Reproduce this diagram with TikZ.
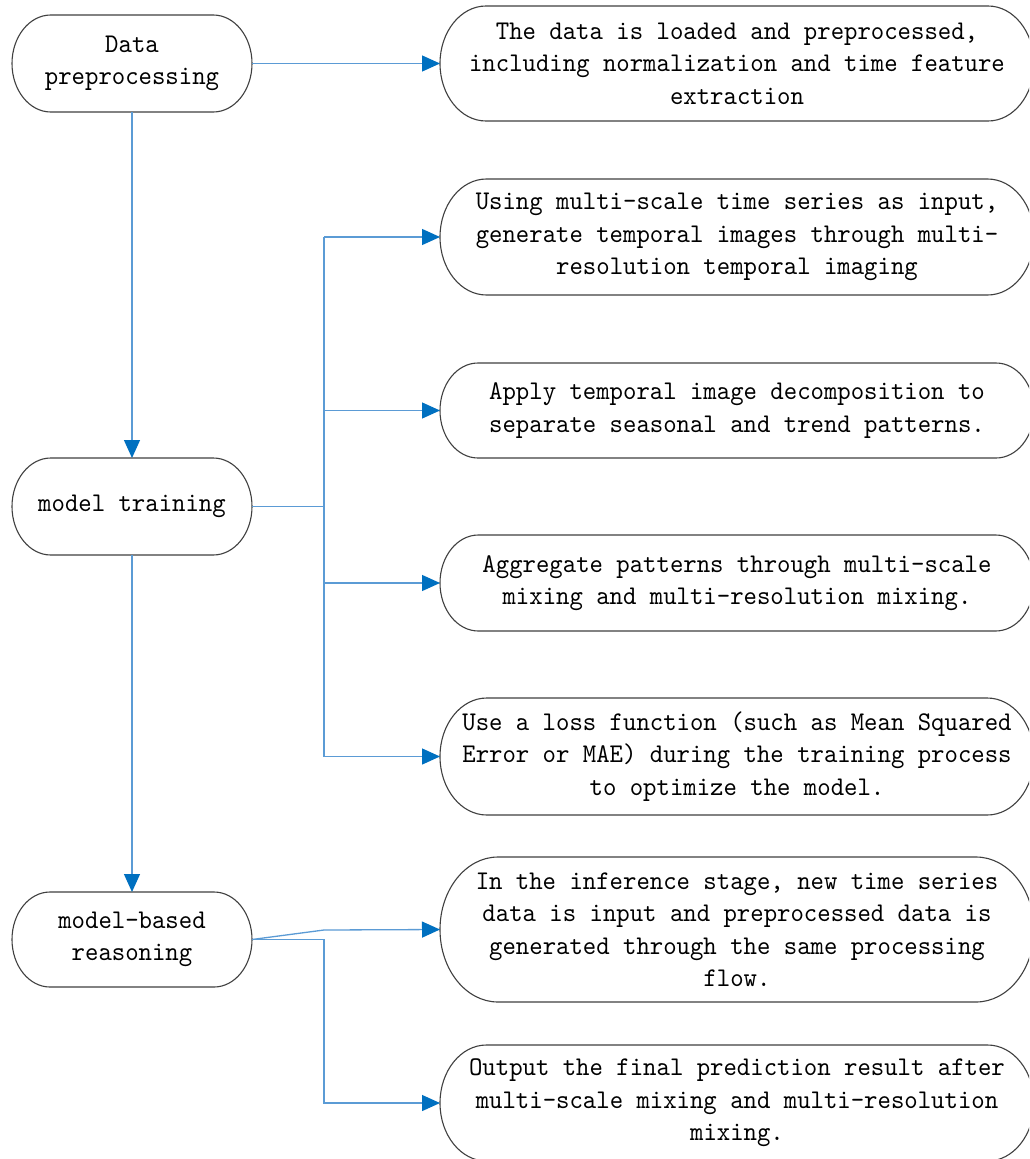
\documentclass[tikz,border=0pt]{standalone}
\usepackage{fontspec}
\setmonofont[FakeStretch=0.945]{lmmono10-regular.otf}
\usetikzlibrary{arrows.meta,calc}
\definecolor{linkblue}{RGB}{91,155,213}
\definecolor{tipblue}{RGB}{0,112,192}
\definecolor{outlinegray}{RGB}{64,64,64}
\tikzset{
  capsule/.style={rectangle, draw=none, outer sep=0pt, inner sep=0pt, align=center,
    font=\fontsize{27}{32.5}\selectfont\ttfamily\frenchspacing},
  leftbox/.style={capsule, minimum width=240pt},
  rightbox/.style={capsule, minimum width=594pt},
  boxline/.style={draw=outlinegray, line width=1.1pt},
  link/.style={draw=linkblue, line width=1.3pt},
  conn/.style={link, -{Triangle[length=18pt,width=16pt,color=tipblue]}}
}
\newcommand\capsuleoutline[1]{%
  \draw[boxline] let \p1=(#1.north west), \p2=(#1.south east),
    \n1={(\y1-\y2)/2}, \n2={0.8*(\y1-\y2)/2} in
    (\x1+\n2,\y1) -- (\x2-\n2,\y1)
    arc[start angle=90,end angle=-90,x radius=\n2,y radius=\n1]
    -- (\x1+\n2,\y2)
    arc[start angle=270,end angle=90,x radius=\n2,y radius=\n1] -- cycle;}
\begin{document}
\begin{tikzpicture}[x=1pt,y=-1pt]
\path[use as bounding box, clip] (0,0) rectangle (1029,1159);
\fill[white] (0,0) rectangle (1029,1159);

% left column
\node[leftbox, minimum height=97pt] (n1) at (132,63.5) {Data\\preprocessing};
\node[leftbox, minimum height=97pt] (n2) at (132,506.5) {model training};
\node[leftbox, minimum height=95pt] (n3) at (132,939.5) {model-based\\reasoning};

% right column
\node[rightbox, minimum height=115pt] (r1) at (737,63.5)
  {The data is loaded and preprocessed,\\including normalization and time feature\\extraction};
\node[rightbox, minimum height=116pt] (r2) at (737,237)
  {Using multi-scale time series as input,\\generate temporal images through multi-\\resolution temporal imaging};
\node[rightbox, minimum height=95pt] (r3) at (737,410.5)
  {Apply temporal image decomposition to\\separate seasonal and trend patterns.};
\node[rightbox, minimum height=96pt] (r4) at (737,583)
  {Aggregate patterns through multi-scale\\mixing and multi-resolution mixing.};
\node[rightbox, minimum height=117pt] (r5) at (737,756.5)
  {Use a loss function (such as Mean Squared\\Error or MAE) during the training process\\to optimize the model.};
\node[rightbox, minimum height=145pt] (r6) at (737,929.5)
  {In the inference stage, new time series\\data is input and preprocessed data is\\generated through the same processing\\flow.};
\node[rightbox, minimum height=116pt] (r7) at (737,1103)
  {Output the final prediction result after\\multi-scale mixing and multi-resolution\\mixing.};

\foreach \bx in {n1,n2,n3,r1,r2,r3,r4,r5,r6,r7} {\capsuleoutline{\bx}}

% junction points
\coordinate (tr) at (324,506.5);
\coordinate (tr3) at (324,939.5);
\coordinate (tr6) at (324,930);

% connectors
\draw[conn] (n1.east) -- (r1.west);
\draw[conn] (n1.south) -- (n2.north);
\draw[conn] (n2.south) -- (n3.north);
\draw[link] (n2.east) -- (tr);
\draw[link] (tr |- r2.west) -- (tr |- r5.west);
\draw[conn] (tr |- r2.west) -- (r2.west);
\draw[conn] (tr |- r3.west) -- (r3.west);
\draw[conn] (tr |- r4.west) -- (r4.west);
\draw[conn] (tr |- r5.west) -- (r5.west);
\draw[conn] (n3.east) -- (tr6) -- (r6.west);
\draw[conn] (n3.east) -- (tr3) |- (r7.west);
\end{tikzpicture}
\end{document}
